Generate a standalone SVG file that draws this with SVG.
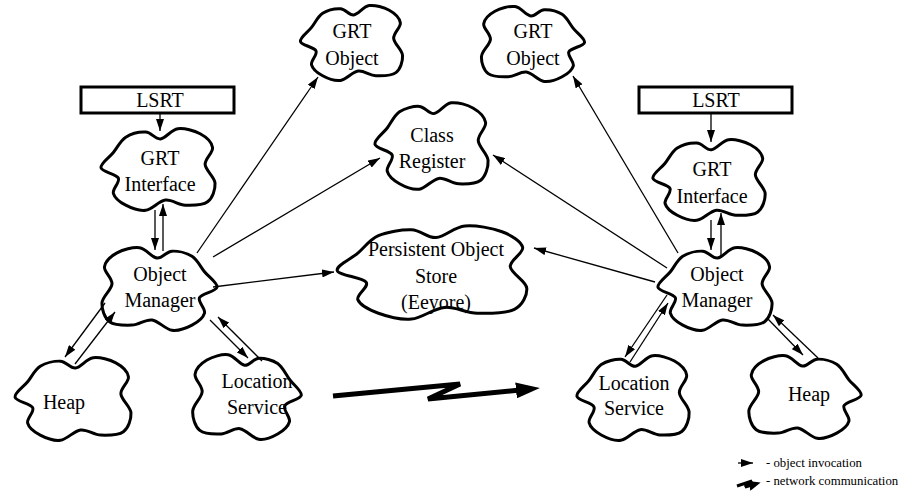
<svg xmlns="http://www.w3.org/2000/svg" xmlns:xlink="http://www.w3.org/1999/xlink" width="903" height="503" viewBox="0 0 903 503">
<style>
.cloud{fill:#fff;stroke:#000;stroke-width:3;vector-effect:non-scaling-stroke;stroke-linejoin:round}
.box{fill:#fff;stroke:#000;stroke-width:3}
.t{font-family:'Liberation Serif','Times New Roman',Times,serif;font-size:20px;fill:#000;text-anchor:middle}
.leg{font-family:'Liberation Serif','Times New Roman',Times,serif;font-size:12.8px;fill:#000;text-anchor:start}
.c{fill:none;stroke:#000;stroke-width:1.3}
.net{fill:none;stroke:#000;stroke-width:5;stroke-linejoin:miter}
</style>
<defs>
<path id="cl" class="cloud" d="M4,48 C3.3,43 10.7,36 14,30 S19.7,16 24,12 S35.3,5.7 40,6 S47.7,14.7 52,14 S60.7,3 66,2 S79.3,4.3 84,8 S93.3,18 94,24 S87.7,37 88,44 S95.7,58.7 96,66 S94,83.7 90,88 S77.7,92.3 72,92 S61.3,85 56,86 S45.3,97 40,98 S28.3,95.3 24,92 S15,83.3 14,78 S19.7,65 18,60 S4.7,53 4,48 Z"/>
<marker id="ah" markerUnits="userSpaceOnUse" markerWidth="12" markerHeight="8" refX="12" refY="4" orient="auto"><path d="M0,0 L12,4 L0,8 Z" fill="#000"/></marker>
<marker id="bh" markerUnits="userSpaceOnUse" markerWidth="24" markerHeight="16" refX="4" refY="8" orient="auto"><path d="M0,0 L24,8 L0,16 Z" fill="#000"/></marker>
<marker id="sh" markerUnits="userSpaceOnUse" markerWidth="12" markerHeight="10" refX="3" refY="5" orient="auto"><path d="M0,0 L12,5 L0,10 Z" fill="#000"/></marker>
</defs>

<g id="lsrt-left"><rect class="box" x="81" y="87" width="153" height="26"/><text class="t" x="160" y="107">LSRT</text></g>
<g id="grt-interface-left"><use xlink:href="#cl" transform="translate(96,127) scale(1.24,0.85)"/><text class="t" x="160" y="165">GRT</text><text class="t" x="160" y="191">Interface</text></g>
<g id="object-manager-left"><use xlink:href="#cl" transform="translate(222,246) scale(-1.25,0.86)"/><text class="t" x="160" y="281">Object</text><text class="t" x="160" y="307">Manager</text></g>
<g id="heap-left"><use xlink:href="#cl" transform="translate(10,356) scale(1.26,0.86)"/><text class="t" x="64" y="409">Heap</text></g>
<g id="location-left"><use xlink:href="#cl" transform="translate(306,353) scale(-1.18,0.88)"/><text class="t" x="257" y="388">Location</text><text class="t" x="257" y="414">Service</text></g>
<g id="grt-object-left"><use xlink:href="#cl" transform="translate(296,4) scale(1.11,0.78)"/><text class="t" x="352" y="38">GRT</text><text class="t" x="352" y="65">Object</text></g>
<g id="class-register"><use xlink:href="#cl" transform="translate(370,101) scale(1.23,0.9)"/><text class="t" x="432" y="142">Class</text><text class="t" x="432" y="168">Register</text></g>
<g id="persistent-store"><use xlink:href="#cl" transform="translate(329,224) scale(2.06,0.97)"/><text class="t" x="436" y="256">Persistent Object</text><text class="t" x="436" y="283">Store</text><text class="t" x="436" y="309">(Eeyore)</text></g>
<g id="grt-object-right"><use xlink:href="#cl" transform="translate(589,5) scale(-1.12,0.78)"/><text class="t" x="533" y="38">GRT</text><text class="t" x="533" y="65">Object</text></g>
<g id="lsrt-right"><rect class="box" x="639" y="87" width="153" height="26"/><text class="t" x="716" y="107">LSRT</text></g>
<g id="grt-interface-right"><use xlink:href="#cl" transform="translate(648,138) scale(1.22,0.84)"/><text class="t" x="712" y="176">GRT</text><text class="t" x="712" y="203">Interface</text></g>
<g id="object-manager-right"><use xlink:href="#cl" transform="translate(653,246) scale(1.24,0.86)"/><text class="t" x="717" y="281">Object</text><text class="t" x="717" y="307">Manager</text></g>
<g id="location-right"><use xlink:href="#cl" transform="translate(572,354) scale(1.22,0.88)"/><text class="t" x="634" y="390">Location</text><text class="t" x="634" y="415">Service</text></g>
<g id="heap-right"><use xlink:href="#cl" transform="translate(866,354) scale(-1.22,0.86)"/><text class="t" x="809" y="401">Heap</text></g>

<g id="connectors">
<line class="c" x1="160" y1="113" x2="160" y2="131" marker-end="url(#ah)"/>
<line class="c" x1="155" y1="210" x2="155" y2="250" marker-end="url(#ah)"/>
<line class="c" x1="163" y1="251" x2="163" y2="204" marker-end="url(#ah)"/>
<line class="c" x1="197" y1="253" x2="318" y2="77" marker-end="url(#ah)"/>
<line class="c" x1="213" y1="257" x2="380" y2="158" marker-end="url(#ah)"/>
<line class="c" x1="213" y1="287" x2="334" y2="272" marker-end="url(#ah)"/>
<line class="c" x1="105" y1="303" x2="65" y2="357" marker-end="url(#ah)"/>
<line class="c" x1="75" y1="364" x2="115" y2="312" marker-end="url(#ah)"/>
<line class="c" x1="210" y1="320" x2="248" y2="358" marker-end="url(#ah)"/>
<line class="c" x1="262" y1="361" x2="218" y2="317" marker-end="url(#ah)"/>
<line class="c" x1="711" y1="113" x2="711" y2="142" marker-end="url(#ah)"/>
<line class="c" x1="711" y1="220" x2="711" y2="250" marker-end="url(#ah)"/>
<line class="c" x1="721" y1="256" x2="721" y2="213" marker-end="url(#ah)"/>
<line class="c" x1="678" y1="253" x2="573" y2="76" marker-end="url(#ah)"/>
<line class="c" x1="667" y1="268" x2="493" y2="155" marker-end="url(#ah)"/>
<line class="c" x1="655" y1="282" x2="534" y2="248" marker-end="url(#ah)"/>
<line class="c" x1="667" y1="295" x2="625" y2="357" marker-end="url(#ah)"/>
<line class="c" x1="630" y1="362" x2="668" y2="303" marker-end="url(#ah)"/>
<line class="c" x1="767" y1="318" x2="803" y2="355" marker-end="url(#ah)"/>
<line class="c" x1="818" y1="358" x2="773" y2="315" marker-end="url(#ah)"/>
<polyline class="net" points="333,396 460,384 428,399 520,390" marker-end="url(#bh)"/>
</g>

<g id="legend">
<line class="c" x1="738" y1="463" x2="753" y2="463" marker-end="url(#ah)"/>
<polyline fill="none" stroke="#000" stroke-width="3" points="737,486 752,481 745,487 752,485" marker-end="url(#sh)"/>
<text class="leg" x="766" y="467">- object invocation</text>
<text class="leg" x="766" y="485">- network communication</text>
</g>
</svg>
